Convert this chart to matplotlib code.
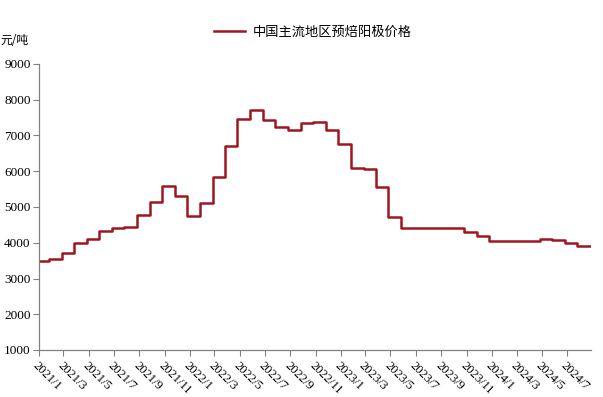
import numpy as np
import pandas as pd
import matplotlib
matplotlib.use('Agg')
import matplotlib.pyplot as plt
import matplotlib.dates as mdates

# monthly price level (yuan/ton); each value takes effect late in the month
start_date = '2021-01-01'
start_value = 3480
change_months = pd.period_range('2021-01', '2024-07', freq='M')
values = [3540, 3720, 4000, 4100, 4340, 4410, 4450, 4770, 5150, 5600, 5300, 4760,
          5120, 5850, 6700, 7460, 7720, 7430, 7230, 7160, 7360, 7390, 7150, 6750,
          6100, 6070, 5560, 4710, 4400, 4400, 4400, 4400, 4400, 4310, 4200, 4050,
          4050, 4050, 4050, 4110, 4085, 4000, 3910]
end_date = '2024-08-26'

dates = [pd.Timestamp(start_date)] + [p.to_timestamp() + pd.Timedelta(days=25) for p in change_months] + [pd.Timestamp(end_date)]
ys = [start_value] + values + [values[-1]]

plt.rcParams['font.family'] = ['Liberation Serif', 'Noto Sans CJK SC']

fig = plt.figure(figsize=(6.03, 3.97), dpi=100)
ax = fig.add_axes([39/603, 1-350/397, (591-39)/603, (350-64)/397])

line, = ax.step(dates, ys, where='post', color='#9E1620', lw=1.8, label='中国主流地区预焙阳极价格')

ax.set_ylim(1000, 9000)
ax.set_yticks(np.arange(1000, 9001, 1000))
ax.set_xlim(pd.Timestamp('2021-01-01'), pd.Timestamp('2024-08-28'))
ax.xaxis.set_major_locator(mdates.MonthLocator(bymonth=[1, 3, 5, 7, 9, 11]))
ax.xaxis.set_major_formatter(mdates.DateFormatter('%Y/%-m'))

for s in ['top', 'right']:
    ax.spines[s].set_visible(False)
for s in ['left', 'bottom']:
    ax.spines[s].set_color('#808080')
    ax.spines[s].set_linewidth(0.9)
ax.tick_params(axis='both', colors='#808080', length=4, width=0.8, labelcolor='black', labelsize=9.5)
ax.tick_params(axis='y', pad=2)
ax.tick_params(axis='x', labelsize=9, pad=3)

for lab in ax.get_xticklabels():
    lab.set_rotation(-45)
    lab.set_ha('left')
    lab.set_va('top')
    lab.set_rotation_mode('anchor')

fig.text(0.0, 1-41/397, '元/吨', fontsize=8.5, family=['Noto Sans CJK SC'], va='center', ha='left')

fig.legend(handles=[line], loc='center', bbox_to_anchor=(313/603, 1-32/397), frameon=False,
           prop={'family': 'Noto Sans CJK SC', 'size': 9.5}, handlelength=2.3, handletextpad=0.6)

fig.savefig('out.png', dpi=100)
